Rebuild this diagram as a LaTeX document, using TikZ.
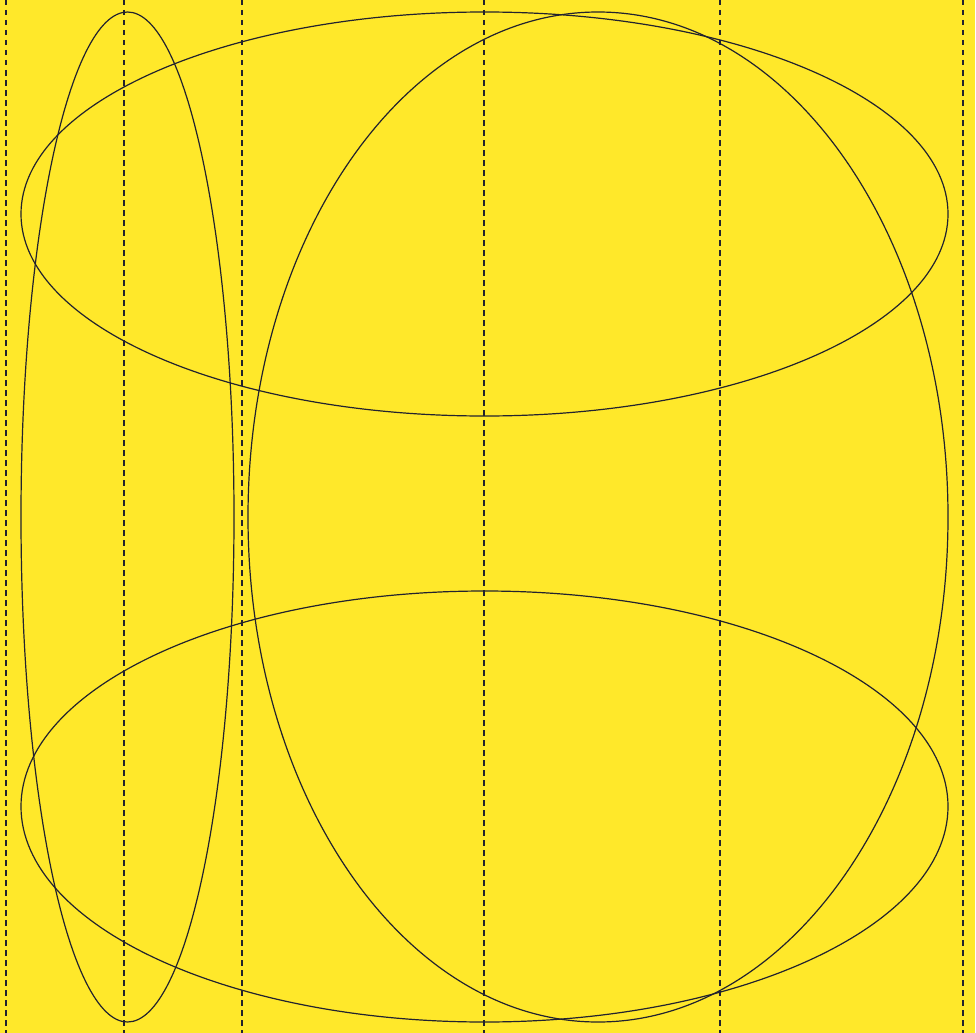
\documentclass[tikz,border=0pt]{standalone}
\definecolor{bg}{HTML}{FFE82A}
\definecolor{ink}{HTML}{22222E}
\begin{document}
\begin{tikzpicture}[x=1pt,y=-1pt,
  guide/.style={draw=ink,line width=1.1pt,dash pattern=on 5.5pt off 4.5pt},
  oval/.style={draw=ink,line width=1.2pt}]
\fill[bg] (0,0) rectangle (975,1033);
\useasboundingbox (0,0) rectangle (975,1033);
\foreach \x in {6,124,242,484,720,963}
  \draw[guide] (\x,0) -- (\x,1033);
\draw[oval] (127.5,517) ellipse [x radius=106.5, y radius=505];
\draw[oval] (484.5,214) ellipse [x radius=463.5, y radius=202];
\draw[oval] (484.5,806.5) ellipse [x radius=463.5, y radius=215.5];
\draw[oval] (598,517) ellipse [x radius=350, y radius=505];
\end{tikzpicture}
\end{document}
